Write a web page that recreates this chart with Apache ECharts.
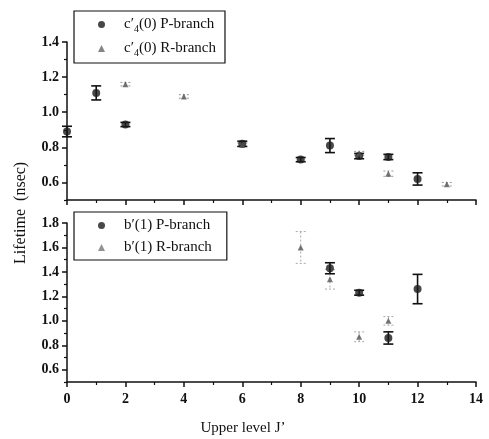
<!DOCTYPE html>
<html><head><meta charset="utf-8">
<script src="https://cdn.jsdelivr.net/npm/echarts@6/dist/echarts.min.js"></script>
<style>html,body{margin:0;padding:0;background:#fff}#c{width:489px;height:439px}</style>
</head><body><div id="c"></div>
<script>
// ---- data ----
const xTicks = [0, 2, 4, 6, 8, 10, 12, 14];
const topYTicks = [0.6, 0.8, 1.0, 1.2, 1.4];
const topYMinor = [0.5, 0.7, 0.9, 1.1, 1.3];
const botYTicks = [0.6, 0.8, 1.0, 1.2, 1.4, 1.6, 1.8];
const botYMinor = [0.5, 0.7, 0.9, 1.1, 1.3, 1.5, 1.7];

const topP_J   = [0, 1, 2, 6, 8, 9, 10, 11, 12];
const topP_val = [0.89, 1.11, 0.93, 0.82, 0.73, 0.81, 0.75, 0.745, 0.62];
const topP_err = [0.03, 0.04, 0.012, 0.015, 0.012, 0.04, 0.015, 0.015, 0.035];
const topR_J   = [2, 4, 6, 10, 11, 13];
const topR_val = [1.16, 1.09, 0.815, 0.765, 0.65, 0.59];
const topR_err = [0.01, 0.01, 0.01, 0.012, 0.015, 0.01];

const botP_J   = [9, 10, 11, 12];
const botP_val = [1.43, 1.23, 0.86, 1.26];
const botP_err = [0.045, 0.02, 0.05, 0.12];
const botR_J   = [8, 9, 10, 11];
const botR_val = [1.60, 1.34, 0.87, 1.00];
const botR_err = [0.13, 0.08, 0.04, 0.035];

const nameTopP = "c′4(0) P-branch";
const nameTopR = "c′4(0) R-branch";
const nameBotP = "b′(1) P-branch";
const nameBotR = "b′(1) R-branch";

// ---- helpers ----
const FONT = "Liberation Serif";
const pts = (J, v) => J.map((j, i) => [j, v[i]]);
const errPts = (J, v, e) => J.map((j, i) => [j, v[i], e[i]]);
function errRender(color, dash, width) {
  return function (params, api) {
    const x = api.value(0), y = api.value(1), e = api.value(2);
    const t = api.coord([x, y + e]);
    const b = api.coord([x, y - e]);
    const w = 5;
    const st = { stroke: color, lineWidth: width, lineDash: dash };
    return { type: 'group', children: [
      { type: 'line', shape: { x1: t[0], y1: t[1], x2: b[0], y2: b[1] }, style: st },
      { type: 'line', shape: { x1: t[0] - w, y1: t[1], x2: t[0] + w, y2: t[1] }, style: st },
      { type: 'line', shape: { x1: b[0] - w, y1: b[1], x2: b[0] + w, y2: b[1] }, style: st }
    ]};
  };
}
function xAxis(gridIndex, showLabels) {
  return {
    type: 'value', gridIndex, min: 0, max: 14, interval: 2,
    axisLine: { show: true, onZero: false, lineStyle: { color: '#111', width: 1.5 } },
    axisTick: { show: true, inside: false, length: 5, lineStyle: { color: '#111', width: 1.5 } },
    minorTick: { show: true, splitNumber: 2, length: 3, lineStyle: { color: '#111', width: 1.2 } },
    splitLine: { show: false },
    axisLabel: { show: showLabels, margin: 10, color: '#111', fontFamily: FONT, fontSize: 14, fontWeight: 'bold' }
  };
}
function yAxisMain(gridIndex, max, ticks) {
  return {
    type: 'value', gridIndex, min: 0.5, max,
    axisLine: { show: true, onZero: false, lineStyle: { color: '#111', width: 1.5 } },
    axisTick: { show: true, length: 5, customValues: ticks, lineStyle: { color: '#111', width: 1.5 } },
    splitLine: { show: false },
    axisLabel: { customValues: ticks, margin: 8, color: '#111', fontFamily: FONT, fontSize: 14, fontWeight: 'bold',
      formatter: v => v.toFixed(1) }
  };
}
function yAxisMinor(gridIndex, max, ticks) {
  return {
    type: 'value', gridIndex, min: 0.5, max, position: 'left', offset: 0,
    axisLine: { show: false },
    axisTick: { show: true, length: 3, customValues: ticks, lineStyle: { color: '#111', width: 1.2 } },
    splitLine: { show: false },
    axisLabel: { show: false }
  };
}
const legendBase = {
  orient: 'vertical', left: 74, borderColor: '#111', borderWidth: 1.2, borderRadius: 0,
  padding: [6, 9, 5, 24], itemWidth: 7, itemHeight: 7, itemGap: 7,
  textStyle: { fontFamily: FONT, fontSize: 15, color: '#111',
    rich: { f: { fontFamily: FONT, fontSize: 15, color: '#111', padding: [0, 0, 0, 14] },
            m: { fontFamily: FONT, fontSize: 15, color: '#111' },
            s: { fontFamily: FONT, fontSize: 10, color: '#111', verticalAlign: 'bottom', padding: [9, 0, 0, 0] } } }
};

const option = {
  animation: false,
  backgroundColor: '#fff',
  grid: [
    { left: 67, top: 42, width: 409, height: 158 },
    { left: 67, top: 223, width: 409, height: 159 }
  ],
  xAxis: [xAxis(0, false), xAxis(1, true)],
  yAxis: [yAxisMain(0, 1.4, topYTicks), yAxisMain(1, 1.8, botYTicks),
          yAxisMinor(0, 1.4, topYMinor), yAxisMinor(1, 1.8, botYMinor)],
  legend: [
    Object.assign({}, legendBase, { top: 11,
      data: [{ name: nameTopP, icon: 'circle' }, { name: nameTopR, icon: 'triangle', itemStyle: { color: '#666' } }],
      formatter: n => '{f|c′}' + n.replace(/^c′4/, '{s|4}{m|') + '}' }),
    Object.assign({}, legendBase, { top: 212, padding: [6, 15, 5, 24],
      data: [{ name: nameBotP, icon: 'circle' }, { name: nameBotR, icon: 'triangle', itemStyle: { color: '#777' } }],
      formatter: n => '{f|' + n + '}' })
  ],
  graphic: [
    { type: 'text', rotation: Math.PI / 2, x: 13, y: 264, style: { text: 'Lifetime  (nsec)', fontFamily: FONT, fontSize: 16, fill: '#111' } },
    { type: 'text', x: 243, y: 428, style: { text: 'Upper level J’', fontFamily: FONT, fontSize: 15, fill: '#111', align: 'center', verticalAlign: 'middle' } }
  ],
  series: [
    { type: 'custom', name: 'eTopP', xAxisIndex: 0, yAxisIndex: 0, data: errPts(topP_J, topP_val, topP_err), renderItem: errRender('#111', null, 1.6), encode: { x: 0, y: 1 }, z: 3 },
    { type: 'custom', name: 'eTopR', xAxisIndex: 0, yAxisIndex: 0, data: errPts(topR_J, topR_val, topR_err), renderItem: errRender('#999', [2, 2], 1), encode: { x: 0, y: 1 }, z: 2 },
    { type: 'custom', name: 'eBotP', xAxisIndex: 1, yAxisIndex: 1, data: errPts(botP_J, botP_val, botP_err), renderItem: errRender('#111', null, 1.6), encode: { x: 0, y: 1 }, z: 3 },
    { type: 'custom', name: 'eBotR', xAxisIndex: 1, yAxisIndex: 1, data: errPts(botR_J, botR_val, botR_err), renderItem: errRender('#aaa', [2, 2], 1), encode: { x: 0, y: 1 }, z: 2 },
    { type: 'scatter', name: nameTopP, xAxisIndex: 0, yAxisIndex: 0, data: pts(topP_J, topP_val), symbol: 'circle', symbolSize: 8, itemStyle: { color: '#1a1a1a' }, z: 5 },
    { type: 'scatter', name: nameTopR, xAxisIndex: 0, yAxisIndex: 0, data: pts(topR_J, topR_val), symbol: 'triangle', symbolSize: 6, itemStyle: { color: '#555' }, z: 6 },
    { type: 'scatter', name: nameBotP, xAxisIndex: 1, yAxisIndex: 1, data: pts(botP_J, botP_val), symbol: 'circle', symbolSize: 8, itemStyle: { color: '#1a1a1a' }, z: 5 },
    { type: 'scatter', name: nameBotR, xAxisIndex: 1, yAxisIndex: 1, data: pts(botR_J, botR_val), symbol: 'triangle', symbolSize: 6, itemStyle: { color: '#555' }, z: 6 }
  ]
};
const chart = echarts.init(document.getElementById('c'), null, { renderer: 'canvas' });
chart.setOption(option);
</script></body></html>
